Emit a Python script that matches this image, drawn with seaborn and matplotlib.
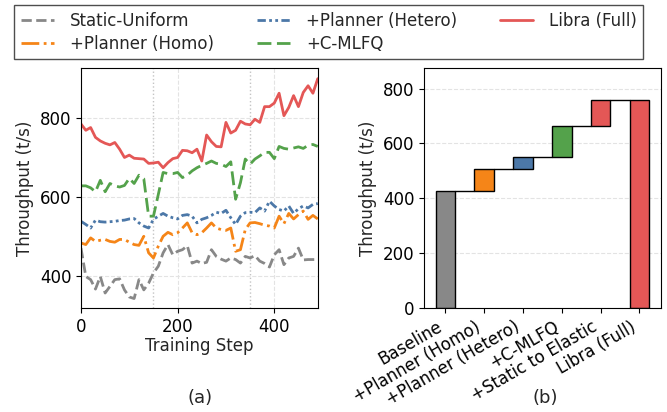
import numpy as np
import pandas as pd
import matplotlib
matplotlib.use("Agg")
import matplotlib.pyplot as plt
import seaborn as sns

steps = list(range(0, 500, 10))

static_uniform = [470, 398, 390, 366, 398, 356, 373, 390, 392, 364,
                  346, 342, 390, 364, 381, 407, 424, 458, 479, 453,
                  462, 466, 476, 432, 437, 431, 434, 466, 449, 442,
                  437, 445, 441, 432, 449, 445, 451, 437, 431, 422,
                  453, 466, 428, 445, 449, 470, 440, 441, 441, 441]
planner_homo = [483, 479, 496, 487, 490, 492, 487, 485, 492, 492,
                485, 479, 477, 500, 458, 445, 475, 500, 510, 504,
                509, 521, 534, 509, 504, 509, 521, 534, 521, 517,
                515, 521, 462, 466, 517, 534, 535, 532, 528, 526,
                521, 551, 532, 558, 544, 555, 564, 543, 553, 544]
planner_hetero = [538, 530, 521, 541, 537, 536, 537, 538, 540, 541,
                  544, 545, 534, 526, 521, 543, 551, 558, 551, 547,
                  544, 553, 555, 551, 534, 543, 547, 553, 561, 558,
                  566, 547, 530, 551, 560, 561, 560, 572, 564, 589,
                  577, 568, 564, 577, 558, 570, 577, 572, 581, 583]
c_mlfq = [628, 628, 623, 613, 642, 613, 634, 628, 625, 629,
          647, 634, 655, 646, 551, 551, 606, 662, 659, 659,
          662, 649, 655, 666, 674, 680, 685, 691, 685, 683,
          677, 689, 594, 636, 696, 683, 696, 704, 713, 713,
          697, 728, 723, 721, 724, 727, 723, 731, 733, 728]
libra_full = [785, 769, 776, 751, 742, 736, 732, 738, 721, 700,
              706, 698, 697, 696, 685, 686, 688, 674, 687, 697,
              700, 718, 717, 712, 721, 691, 757, 740, 728, 727,
              789, 762, 769, 792, 785, 783, 797, 789, 829, 829,
              838, 863, 806, 827, 857, 829, 865, 882, 863, 900]

series_names = ["Static-Uniform", "+Planner (Homo)", "+Planner (Hetero)", "+C-MLFQ", "Libra (Full)"]
series_values = [static_uniform, planner_homo, planner_hetero, c_mlfq, libra_full]

wf_labels = ["Baseline", "+Planner (Homo)", "+Planner (Hetero)", "+C-MLFQ", "+Static to Elastic", "Libra (Full)"]
wf_deltas = [425, 83, 43, 114, 95]
wf_total = 760

colors = ["#888888", "#f58518", "#4c78a8", "#54a24b", "#e45756"]
styles = ["--", "-.", (0, (3, 1.2, 1, 1.2, 1, 1.2)), (0, (5, 2)), "-"]

sns.set_style("ticks")
plt.rcParams["font.family"] = ["DejaVu Sans"]
plt.rcParams["axes.edgecolor"] = "black"
plt.rcParams["xtick.color"] = "black"
plt.rcParams["ytick.color"] = "black"

fig = plt.figure(figsize=(6.67, 4.12), dpi=100)
ax1 = fig.add_axes([0.1214, 0.2524, 0.355, 0.5825])
ax2 = fig.add_axes([0.6357, 0.2524, 0.355, 0.5825])

# Left: line plot
for name, vals, c, ls in zip(series_names, series_values, colors, styles):
    df = pd.DataFrame({"step": steps, "thr": vals})
    sns.lineplot(data=df, x="step", y="thr", ax=ax1, color=c, linestyle=ls,
                 linewidth=2, label=name, legend=False)
for xv in (150, 350):
    ax1.axvline(xv, color="#c4c4c4", linestyle=":", linewidth=1, zorder=0)
ax1.set_xlim(0, 490)
ax1.set_ylim(318, 927)
ax1.set_xticks([0, 200, 400])
ax1.set_yticks([400, 600, 800])
ax1.grid(True, linestyle="--", color="#e3e3e3", linewidth=0.8)
ax1.set_axisbelow(True)
ax1.set_xlabel("Training Step", fontsize=12, labelpad=1)
ax1.set_ylabel("Throughput (t/s)", fontsize=12)
ax1.tick_params(labelsize=12)

# Right: waterfall
bottoms = []
heights = []
cum = 0
for d in wf_deltas:
    bottoms.append(cum)
    heights.append(d)
    cum += d
bottoms.append(0)
heights.append(wf_total)
bar_colors = ["#888888", "#f58518", "#4c78a8", "#54a24b", "#e45756", "#e45756"]
xpos = list(range(len(wf_labels)))
try:
    sns.barplot(x=xpos, y=heights, bottom=bottoms, ax=ax2, width=0.5,
                color="#888888", edgecolor="black", linewidth=1, native_scale=True)
    for p, c in zip(ax2.patches, bar_colors):
        p.set_facecolor(c)
except Exception:
    ax2.bar(xpos, heights, bottom=bottoms, width=0.5, color=bar_colors,
            edgecolor="black", linewidth=1)
tops = [b + h for b, h in zip(bottoms, heights)]
for i in range(len(wf_labels) - 1):
    ax2.plot([i + 0.25, i + 0.75], [tops[i], tops[i]], color="black", linewidth=1, zorder=3)
ax2.set_xlim(-0.55, 5.55)
ax2.set_ylim(0, 875)
ax2.set_yticks([0, 200, 400, 600, 800])
ax2.set_xticks(xpos)
ax2.set_xticklabels(wf_labels, rotation=30, ha="right", fontsize=12)
ax2.yaxis.grid(True, linestyle="--", color="#e3e3e3", linewidth=0.8)
ax2.xaxis.grid(False)
ax2.set_axisbelow(True)
ax2.set_ylabel("Throughput (t/s)", fontsize=12)
ax2.set_xlabel("")
ax2.tick_params(axis="y", labelsize=12)

handles, labels = ax1.get_legend_handles_labels()
leg = fig.legend(handles, labels, loc="upper center", bbox_to_anchor=(0.493, 1.008), ncol=3,
                 fontsize=12, frameon=True, fancybox=False, edgecolor="#222222",
                 borderpad=0.4, handlelength=2.0, columnspacing=2.55, labelspacing=0.3,
                 handletextpad=0.95)
leg.get_frame().set_linewidth(1.0)

fig.text(0.30, 0.035, "(a)", ha="center", va="center", fontsize=13)
fig.text(0.817, 0.035, "(b)", ha="center", va="center", fontsize=13)

fig.savefig("out.png", dpi=100)
